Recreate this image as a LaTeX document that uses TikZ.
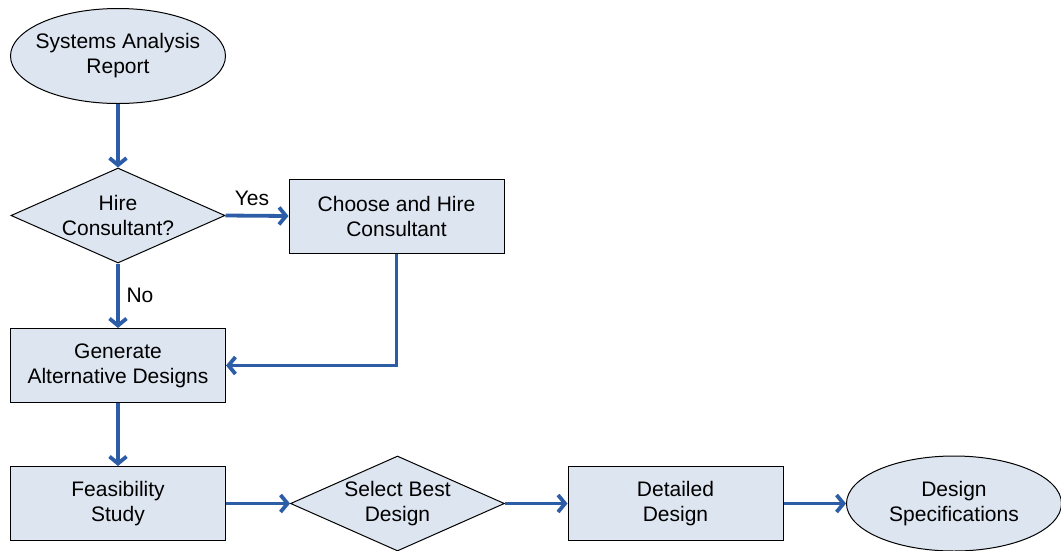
\documentclass[tikz,border=0pt]{standalone}
\usepackage{fontspec}
\setmainfont{Liberation Sans}
\usetikzlibrary{shapes.geometric,arrows.meta}
\definecolor{boxfill}{HTML}{DDE5F0}
\definecolor{flowblue}{HTML}{2E5DA8}
\begin{document}
\begin{tikzpicture}[x=1pt,y=-1pt,
  base/.style={draw=black,line width=1pt,fill=boxfill,inner sep=0pt,align=center,
    font=\fontsize{21}{25}\selectfont},
  terminal/.style={base,ellipse,minimum width=215pt,minimum height=95pt},
  decision/.style={base,diamond,minimum width=214pt,minimum height=95pt},
  process/.style={base,rectangle,minimum width=215pt,minimum height=74pt},
  txt/.style={inner sep=0pt,align=center,font=\fontsize{21}{25}\selectfont},
  flow/.style={draw=flowblue,line width=3.8pt,-{Straight Barb[length=7pt,width=17pt]}},
  lbl/.style={font=\fontsize{21}{25}\selectfont,inner sep=0pt}]
\useasboundingbox (0,0) rectangle (1061,550);

% shapes (curved and pointed outlines carry their text in a separate node)
\node[terminal] (report) at (118,56) {};
\node[txt] (reporttxt) at (report) {Systems Analysis\\Report};
\node[decision] (hire) at (118,215.5) {};
\node[txt] (hiretxt) at (hire) {Hire\\Consultant?};
\node[process] (choose) at (396.5,216) {Choose and Hire\\Consultant};
\node[process] (generate) at (118,365.5) {Generate\\Alternative Designs};
\node[process] (feas) at (118,503.5) {Feasibility\\Study};
\node[decision] (select) at (397.5,503.5) {};
\node[txt] (selecttxt) at (select) {Select Best\\Design};
\node[process] (detailed) at (675.5,503.5) {Detailed\\Design};
\node[terminal] (spec) at (954,503.5) {};
\node[txt] (spectxt) at (spec) {Design\\Specifications};

% connectors
\draw[flow] (report) -- (hire);
\draw[flow] (hire.east) -- (choose.west);
\draw[flow] (hire.south) -- (generate.north);
\draw[flow] (choose.south) |- (generate.east);
\draw[flow] (generate) -- (feas);
\draw[flow] (feas.east) -- (select.west);
\draw[flow] (select.east) -- (detailed.west);
\draw[flow] (detailed.east) -- (spec.west);

% branch labels
\node[lbl] (yes) at (252,198) {Yes};
\node[lbl] (no) at (140,295) {No};
\end{tikzpicture}
\end{document}
